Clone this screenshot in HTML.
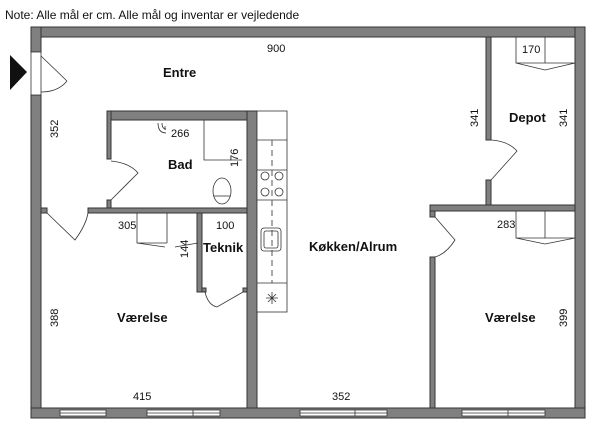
<!DOCTYPE html>
<html><head><style>
body{margin:0;background:#fff;}
svg{display:block;font-family:"Liberation Sans",sans-serif;}
.w{fill:#808080;stroke:#333;stroke-width:1}
.l{fill:none;stroke:#333;stroke-width:0.8}
.t{font-size:11px;fill:#111}
.b{font-size:13px;font-weight:bold;fill:#111}
</style></head><body>
<svg width="600" height="432" viewBox="0 0 600 432">
<text x="5" y="19" font-size="12" fill="#111">Note: Alle mål er cm. Alle mål og inventar er vejledende</text>
<!-- outer walls -->
<rect class="w" x="31" y="27" width="554" height="10"/>
<rect class="w" x="31" y="27" width="10" height="25"/>
<rect class="w" x="31" y="95" width="10" height="323"/>
<rect class="w" x="575" y="27" width="10" height="391"/>
<rect class="w" x="31" y="408" width="554" height="10"/>
<!-- windows -->
<g fill="#fff" stroke="#333" stroke-width="0.8">
<rect x="60" y="410" width="46" height="6"/><rect x="147" y="410" width="73" height="6"/>
<rect x="300" y="410" width="87" height="6"/><rect x="462" y="410" width="83" height="6"/>
</g>
<g class="l"><line x1="60" y1="413" x2="106" y2="413"/><line x1="147" y1="413" x2="220" y2="413"/><line x1="300" y1="413" x2="387" y2="413"/><line x1="462" y1="413" x2="545" y2="413"/>
<line x1="193" y1="410" x2="193" y2="416"/><line x1="355" y1="410" x2="355" y2="416"/><line x1="508" y1="410" x2="508" y2="416"/></g>
<!-- entrance -->
<polygon points="10,55 27,72 10,90" fill="#111"/>
<rect x="31" y="52" width="10" height="43" fill="#fff" stroke="#333" stroke-width="0.8"/>
<path class="l" d="M41,56 L67,81 M41,92 Q58,92 67,81"/>
<!-- inner walls -->
<rect class="w" x="247" y="111" width="10" height="297"/>
<rect class="w" x="107" y="111" width="140" height="9"/>
<rect class="w" x="107" y="111" width="4" height="48"/>
<rect class="w" x="107" y="200" width="4" height="8"/>
<rect class="w" x="41" y="208" width="6" height="5"/>
<rect class="w" x="88" y="208" width="159" height="5"/>
<rect class="w" x="197" y="213" width="5" height="79"/>
<rect class="w" x="202" y="288" width="4" height="4"/><rect class="w" x="243" y="288" width="4" height="4"/>
<rect class="w" x="486" y="37" width="5" height="103"/>
<rect class="w" x="486" y="180" width="5" height="28"/>
<rect class="w" x="430" y="205" width="145" height="6"/>
<rect class="w" x="430" y="211" width="5" height="6"/>
<rect class="w" x="430" y="257" width="5" height="151"/>
<!-- doors -->
<path class="l" d="M111,200 L138,173 Q130,163 111,161"/>
<path class="l" d="M47,213 L75,240 Q86,225 88,213"/>
<path class="l" d="M205,292 Q208,305 217,307 L243,292"/>
<path class="l" d="M491,180 L517,151 Q508,141 491,140"/>
<path class="l" d="M435,217 L455,240 Q446,254 435,257"/>
<!-- wardrobes -->
<path class="l" d="M516,37 V63 H575 M545,37 V63 M516,63 L545,70 L575,63"/>
<path class="l" d="M516,211 V238 H575 M545,211 V238 M516,238 L545,244 L575,238"/>
<path class="l" d="M137,213 V243 L167,243 M167,213 V243 M137,243 L165,247 M175,247 L198,243"/>
<path class="l" d="M204,120 V160 H242"/>
<!-- kitchen counter -->
<rect x="257" y="111" width="30" height="201" fill="#fff" stroke="#333" stroke-width="0.8"/>
<path class="l" d="M257,140 H287 M257,170 H287 M257,200 H287 M257,283 H287"/>
<line x1="272" y1="140" x2="272" y2="283" stroke="#555" stroke-dasharray="6,4"/>
<g class="l"><circle cx="265" cy="176" r="4"/><circle cx="279" cy="176" r="4"/><circle cx="265" cy="192" r="4"/><circle cx="279" cy="192" r="4"/>
<rect x="261" y="228" width="20" height="23" rx="3"/><rect x="264" y="231" width="14" height="17" rx="2"/>
<path d="M266,298 H278 M272,292 V304 M268,294 L276,302 M276,294 L268,302"/></g>
<!-- toilet / sink -->
<g class="l"><ellipse cx="222" cy="191" rx="9" ry="13"/><path d="M214,196 H230"/>
<path d="M158,123 Q158,133 166,133 M162,123 Q162,129 166,129 M165,126 V130"/></g>
<!-- labels -->
<g class="t">
<text x="267" y="52">900</text><text x="171" y="137">266</text><text x="522" y="53">170</text>
<text x="118" y="229">305</text><text x="216" y="229">100</text><text x="497" y="228">283</text>
<text x="133" y="400">415</text><text x="332" y="400">352</text>
<text transform="translate(58,138) rotate(-90)">352</text>
<text transform="translate(238,167) rotate(-90)">176</text>
<text transform="translate(188,258) rotate(-90)">144</text>
<text transform="translate(478,127) rotate(-90)">341</text>
<text transform="translate(567,127) rotate(-90)">341</text>
<text transform="translate(58,327) rotate(-90)">388</text>
<text transform="translate(567,327) rotate(-90)">399</text>
</g>
<g class="b">
<text x="163" y="77">Entre</text><text x="168" y="169">Bad</text><text x="509" y="122">Depot</text>
<text x="203" y="252">Teknik</text><text x="309" y="251">Køkken/Alrum</text>
<text x="117" y="322">Værelse</text><text x="485" y="322">Værelse</text>
</g>
</svg>
</body></html>
